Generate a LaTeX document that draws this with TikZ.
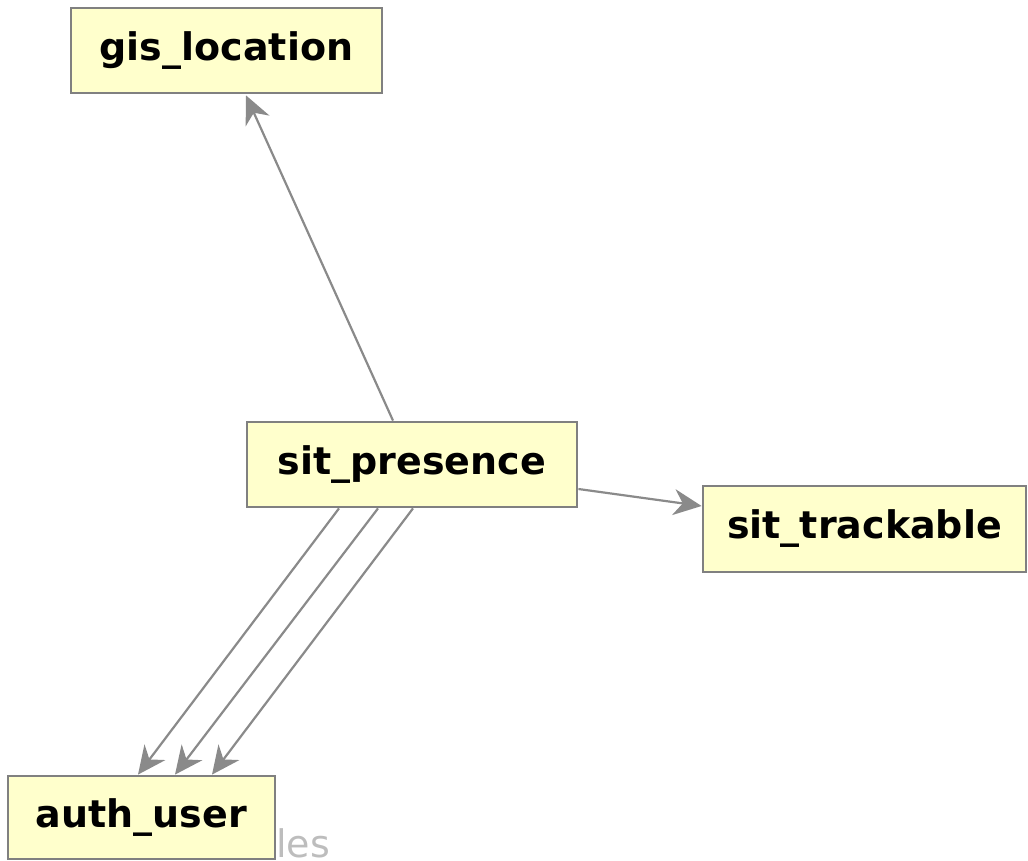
\documentclass[tikz,border=0pt]{standalone}
\usepackage{fontspec}
\setmainfont{DejaVu Sans}
\usetikzlibrary{arrows.meta}
\definecolor{boxfill}{HTML}{FFFFCC}
\definecolor{boxline}{HTML}{808080}
\definecolor{edgecol}{HTML}{8A8A8A}
\definecolor{notecol}{HTML}{BDBDBD}
\begin{document}
\begin{tikzpicture}[x=1pt,y=-1pt,
  table/.style={draw=boxline, line width=2.8pt, fill=boxfill, rectangle,
    inner sep=0pt, font=\fontsize{38}{44}\selectfont\bfseries},
  fk/.style={draw=edgecol, line width=2.2pt,
    -{Stealth[length=28pt,width=26pt,inset=9pt]}}]
  \useasboundingbox (0,0) rectangle (1028,861);

  % faint caption partly covered by the auth_user box
  \node[anchor=base west, inner sep=0pt, text=notecol,
    font=\fontsize{38}{42}\selectfont] (cap) at (276,857) {les};

  \node[table, minimum width=311pt, minimum height=85pt] (gis) at (226.5,50.5) {gis\_location};
  \node[table, minimum width=330pt, minimum height=85pt] (sp) at (412,464.5) {sit\_presence};
  \node[table, minimum width=323pt, minimum height=86pt] (st) at (864.5,529) {sit\_trackable};
  \node[table, minimum width=267pt, minimum height=83pt] (au) at (141.5,817.5) {auth\_user};

  \draw[fk] ([xshift=-19pt]sp.north) -- ([xshift=19.5pt,yshift=-1pt]gis.south);
  \draw[fk] ([yshift=-24.5pt]sp.east) -- ([yshift=23pt]st.west);
  \draw[fk] ([xshift=-73pt]sp.south) -- ([xshift=-3.5pt]au.north);
  \draw[fk] ([xshift=-34pt]sp.south) -- ([xshift=33.5pt]au.north);
  \draw[fk] ([xshift=1pt]sp.south) -- ([xshift=70.5pt]au.north);
\end{tikzpicture}
\end{document}
